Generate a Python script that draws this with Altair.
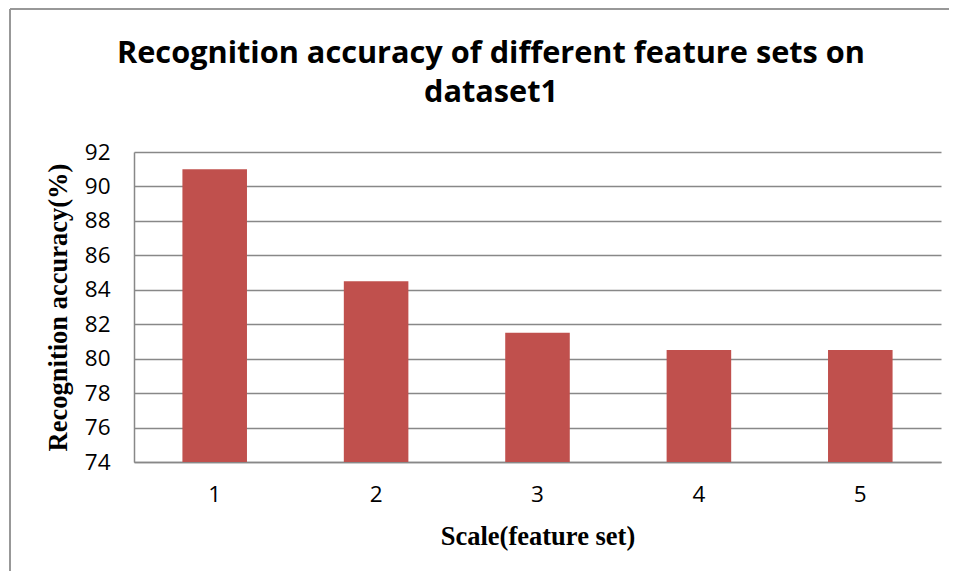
import altair as alt
import pandas as pd

categories = ["1", "2", "3", "4", "5"]
accuracy = [91.0, 84.5, 81.5, 80.5, 80.5]
y_ticks = [74, 76, 78, 80, 82, 84, 86, 88, 90, 92]
title_lines = ["Recognition accuracy of different feature sets on", "dataset1"]

df = pd.DataFrame({"scale": categories, "acc": accuracy})

W, H = 807, 310

bars = alt.Chart(df).mark_bar(color="#C0504D", clip=True).encode(
    x=alt.X("scale:N", sort=categories,
            scale=alt.Scale(paddingInner=0.6, paddingOuter=0.3),
            axis=alt.Axis(title="Scale(feature set)", labelAngle=0,
                          labelFont="Open Sans", labelFontSize=22.5, labelColor="#000",
                          labelPadding=21, ticks=False, domainColor="#888", domainWidth=1.5,
                          titleFont="Liberation Serif", titleFontSize=26.5, titleFontWeight="bold",
                          titleColor="#000", titlePadding=18)),
    y=alt.Y("acc:Q", scale=alt.Scale(domain=[74, 92], nice=False, zero=False),
            axis=alt.Axis(title="Recognition accuracy(%)", values=y_ticks,
                          labelFont="Open Sans", labelFontSize=22.5, labelColor="#000",
                          labelPadding=24, ticks=False, grid=True, gridColor="#888",
                          gridWidth=1.5, domainColor="#888", domainWidth=1.5,
                          titleFont="Liberation Serif", titleFontSize=26.5, titleFontWeight="bold",
                          titleColor="#000", titlePadding=12)),
)

frame_left = alt.Chart(df).mark_rule(color="#999", strokeWidth=1.5).encode(
    x=alt.value(-124), y=alt.value(-143), y2=alt.value(H + 109))
frame_top = alt.Chart(df).mark_rule(color="#999", strokeWidth=1.5).encode(
    x=alt.value(-124), x2=alt.value(W + 10), y=alt.value(-143))

title1 = alt.Chart(pd.DataFrame({"t": [title_lines[0]]})).mark_text(
    font="Open Sans", fontSize=30.7, fontWeight="bold", color="#000",
    align="center", baseline="alphabetic").encode(
    text="t:N", x=alt.value(491 - 134), y=alt.value(63 - 152))
title2 = alt.Chart(pd.DataFrame({"t": [title_lines[1]]})).mark_text(
    font="Open Sans", fontSize=30.7, fontWeight="bold", color="#000",
    align="center", baseline="alphabetic").encode(
    text="t:N", x=alt.value(491 - 134), y=alt.value(102 - 152))

chart = alt.layer(frame_left, frame_top, title1, title2, bars).properties(
    width=W, height=H,
    background="white",
    autosize=alt.AutoSizeParams(type="none"),
    padding={"left": 126, "top": 144, "right": 8, "bottom": 109},
).configure_view(strokeWidth=0, strokeOpacity=0)

chart.save("out.html", embed_options={"renderer": "svg", "actions": False})
